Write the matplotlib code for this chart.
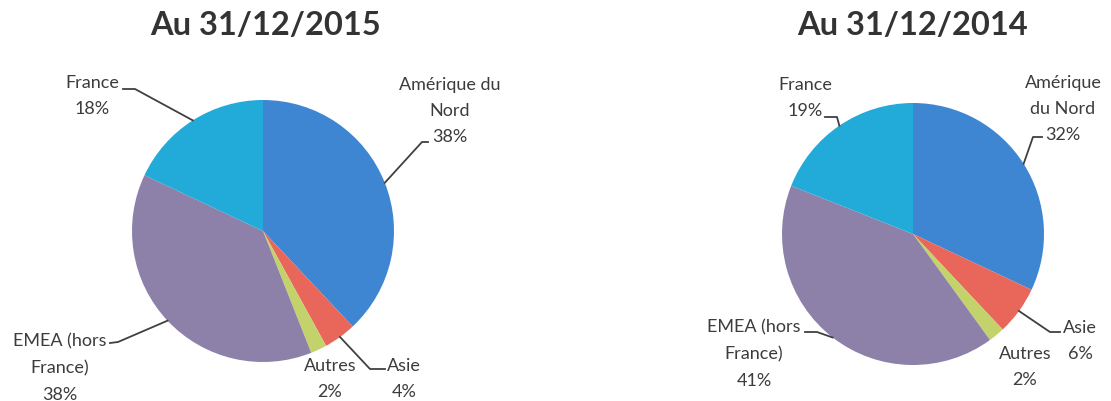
import numpy as np
import matplotlib.pyplot as plt

# data
categories_2015 = ["Amérique du\nNord", "Asie", "Autres", "EMEA (hors\nFrance)", "France"]
values_2015 = [38, 4, 2, 38, 18]
categories_2014 = ["Amérique\ndu Nord", "Asie", "Autres", "EMEA (hors\nFrance)", "France"]
values_2014 = [32, 6, 2, 41, 19]
titles = ["Au 31/12/2015", "Au 31/12/2014"]
colors = ["#3f86d2", "#e8675a", "#c3d26a", "#8d81aa", "#22aad9"]

W, H = 1111, 401
plt.rcParams['font.family'] = ['Lato', 'DejaVu Sans']

fig = plt.figure(figsize=(W / 100, H / 100), dpi=100)
ax = fig.add_axes([0, 0, 1, 1])


def y(py):
    # pixel rows counted from the top
    return H - py


# layout in pixel coords: pie centre, radius, title x, label centres, leader elbows
pies = [
    dict(values=values_2015, cats=categories_2015, title=titles[0],
         center=(263, 231), radius=131, title_x=265,
         labels=[(450, 111), (404, 379), (330, 379), (60, 368), (92, 96)],
         elbows=[[(428, 142), (422, 142)], [(385, 369), (370, 369)], None,
                 [(110, 343), (118, 342)], [(123, 89), (135, 89)]]),
    dict(values=values_2014, cats=categories_2014, title=titles[1],
         center=(913, 234), radius=131, title_x=913,
         labels=[(1063, 109), (1080, 341), (1025, 367), (754, 354), (805, 98)],
         elbows=[[(1042, 137), (1033, 137)], [(1060, 332), (1050, 332)], None,
                 [(805, 332), (817, 332)], [(825, 117), (837, 117)]]),
]

for p in pies:
    cx, cy = p['center']
    wedges, _ = ax.pie(p['values'], colors=colors, startangle=90, counterclock=False,
                       center=(cx, y(cy)), radius=p['radius'],
                       wedgeprops=dict(linewidth=0))
    ax.text(p['title_x'], y(35), p['title'], ha='center', va='baseline',
            fontsize=23.5, fontweight='bold', color='#333333')
    for w, cat, v, (lx, ly), elb in zip(wedges, p['cats'], p['values'],
                                         p['labels'], p['elbows']):
        ax.text(lx, y(ly), f"{cat}\n{v}%", ha='center', va='center',
                fontsize=13, color='#3c3c3c', linespacing=1.8)
        if elb is None:
            continue
        ang = np.deg2rad((w.theta1 + w.theta2) / 2)
        ex = cx + p['radius'] * np.cos(ang)
        ey = y(cy) + p['radius'] * np.sin(ang)
        xs = [elb[0][0], elb[1][0], ex]
        ys = [y(elb[0][1]), y(elb[1][1]), ey]
        ax.plot(xs, ys, color='#404040', lw=1.3)

ax.set_xlim(0, W)
ax.set_ylim(0, H)
ax.set_aspect('auto')
ax.axis('off')

fig.savefig('out.png', dpi=100)
